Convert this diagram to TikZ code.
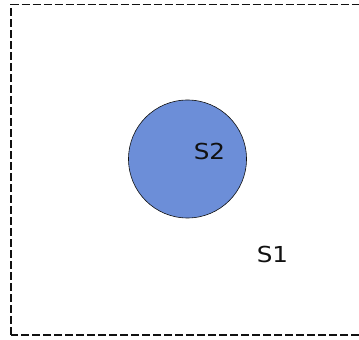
\documentclass[tikz,border=0pt]{standalone}
\usepackage{fontspec}
\setmainfont{DejaVu Sans}[FakeStretch=1.12]
\begin{document}
\begin{tikzpicture}[x=1pt,y=1pt,font=\fontsize{22}{26}\selectfont]
\definecolor{ink}{HTML}{111111}\definecolor{setfill}{HTML}{6C8ED8}
\tikzset{setline/.style={draw=ink,line width=1.3pt,dash pattern=on 8pt off 3pt},
  setdisk/.style={circle,draw=ink,line width=0.6pt,fill=setfill,minimum size=118pt,inner sep=0pt},
  setlabel/.style={text=ink,inner sep=0pt}}
\useasboundingbox (0,0) rectangle (359,340);
\clip (0,0) rectangle (359,340);
\draw[setline] (11,5) rectangle (366,335.5);
\node[setdisk] (s2) at (187.5,181) {};
\node[setlabel] (s2label) at (209.5,188.5) {S2};
\node[setlabel] (s1label) at (272.5,85.5) {S1};
\end{tikzpicture}
\end{document}
